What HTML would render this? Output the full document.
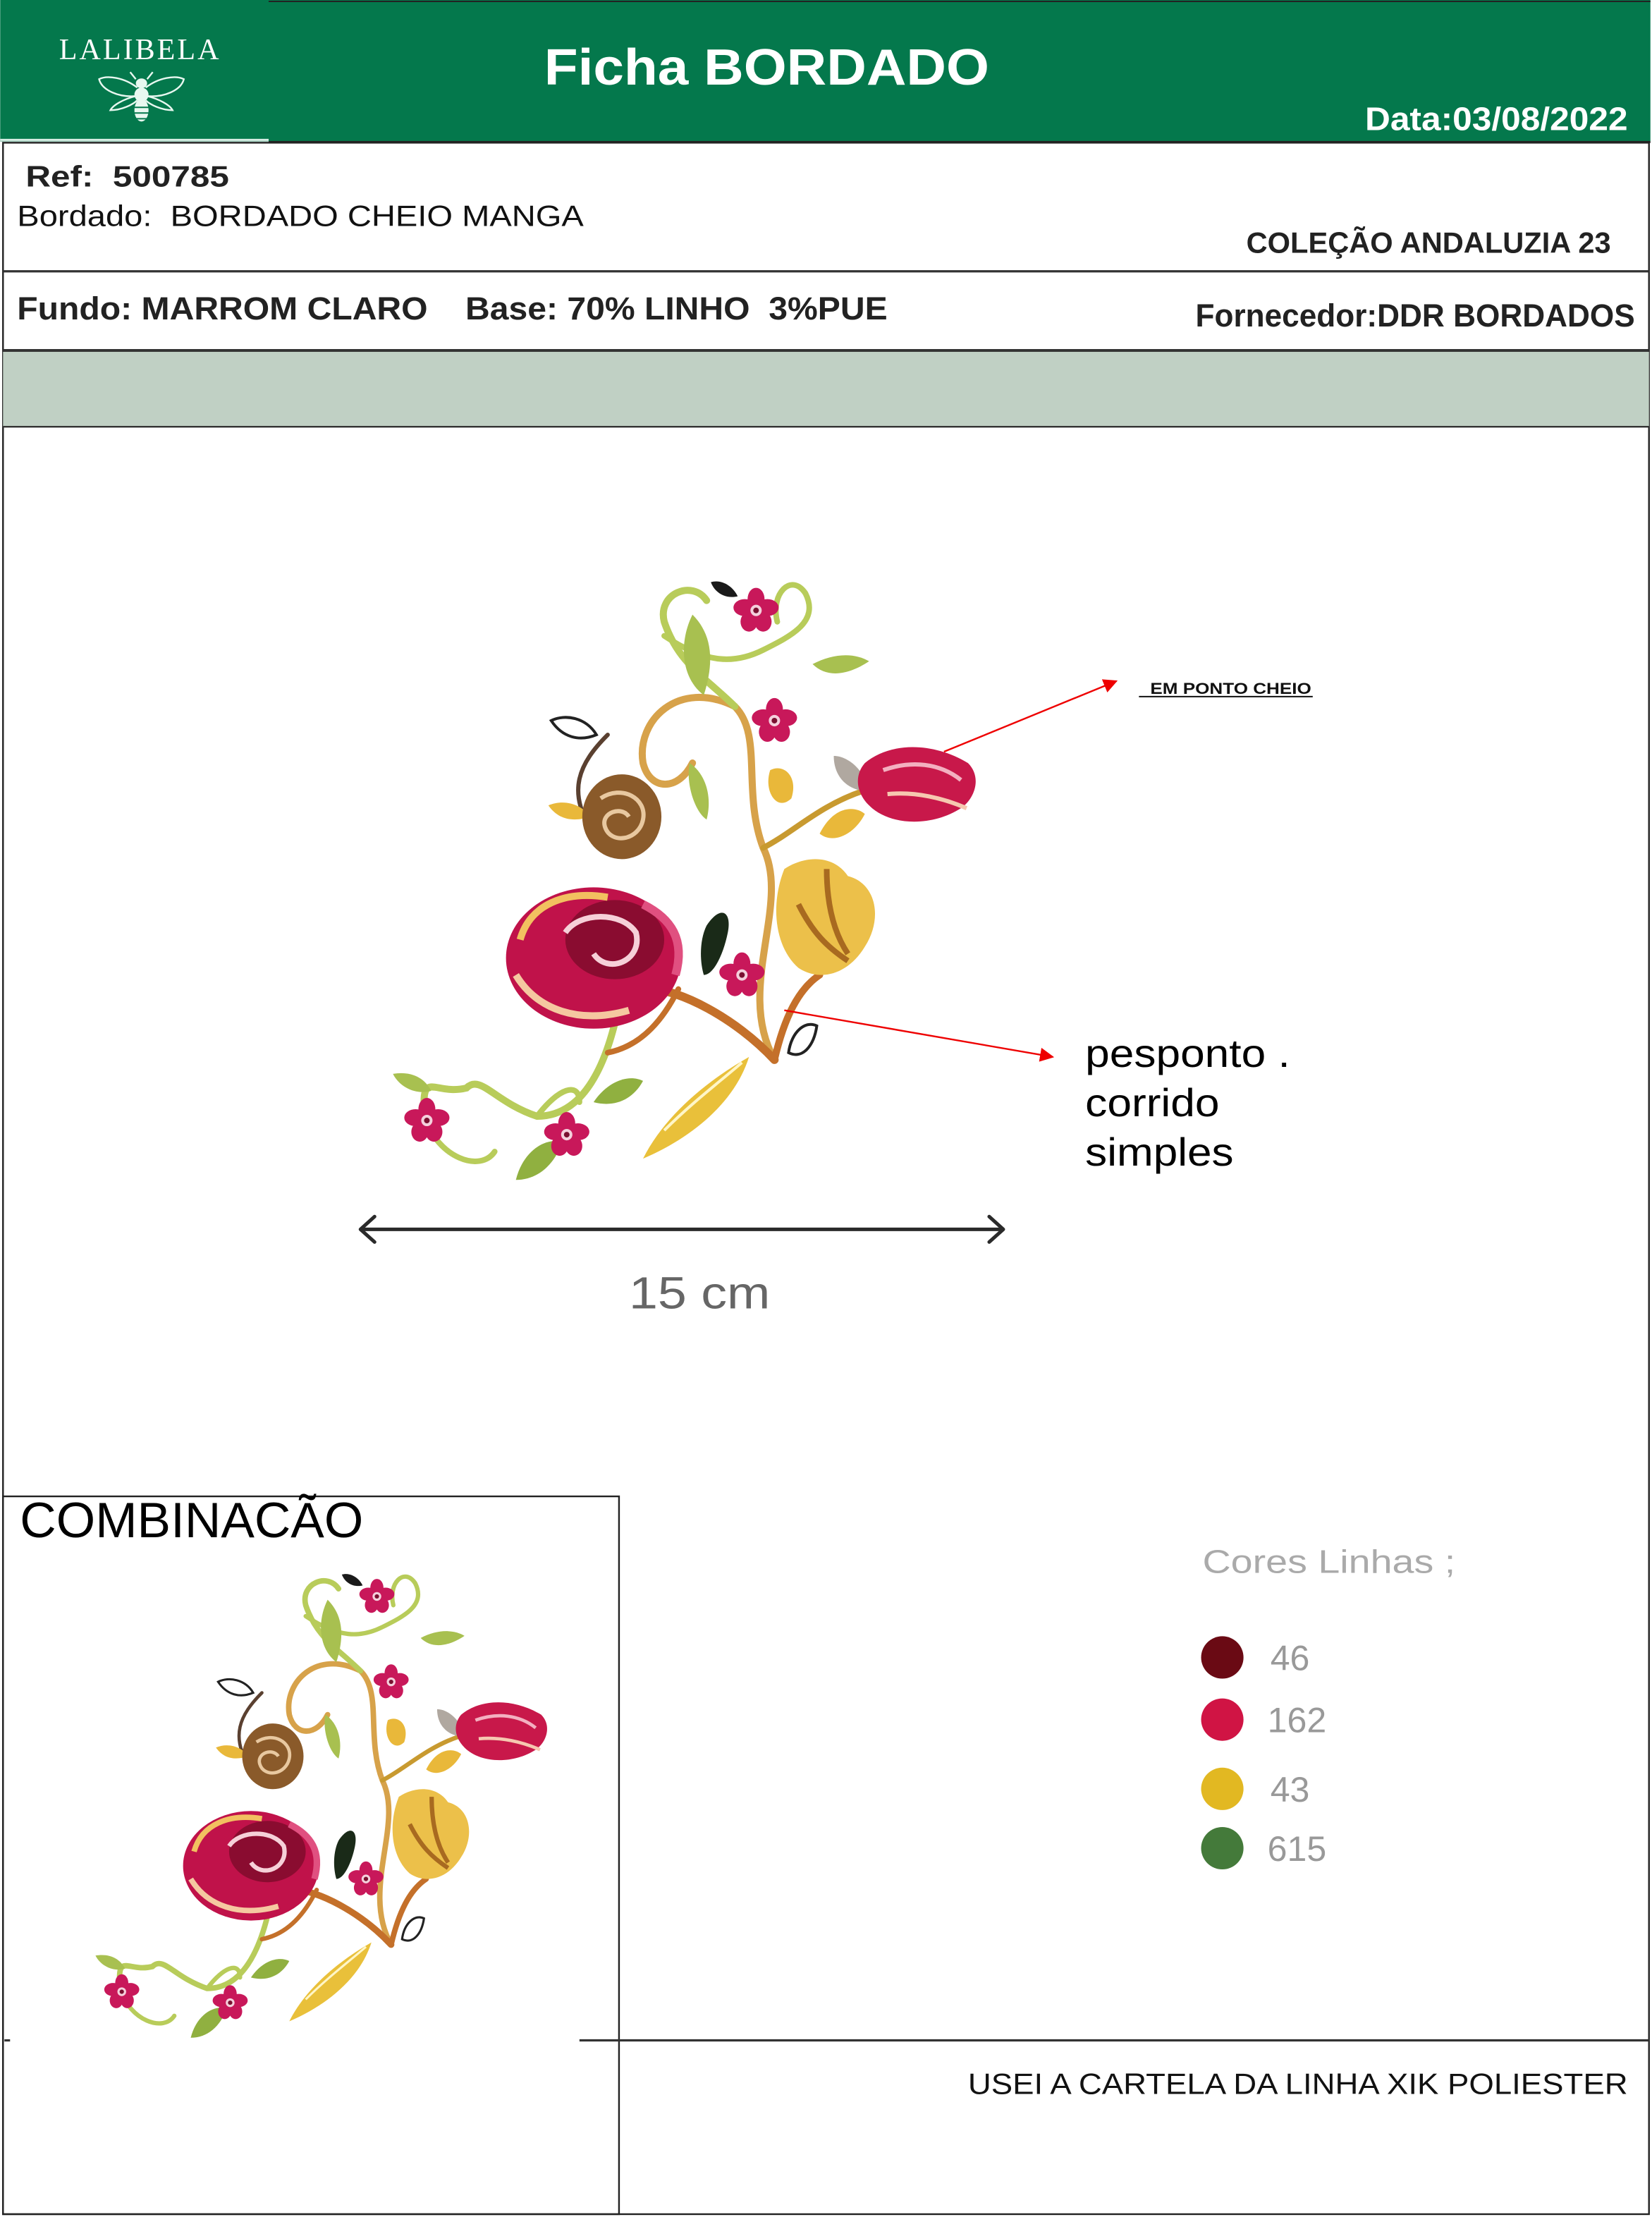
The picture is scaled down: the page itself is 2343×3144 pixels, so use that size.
<!DOCTYPE html>
<html><head><meta charset="utf-8"><style>
html,body{margin:0;padding:0;background:#fff;width:2343px;height:3144px;overflow:hidden}
svg{display:block}
text{font-family:"Liberation Sans",Arial,sans-serif}
</style></head><body>
<svg width="2343" height="3144" viewBox="0 0 1169 1569" xmlns="http://www.w3.org/2000/svg">
<defs>
<g id="flower">
  <g fill="#c8185a">
    <ellipse cx="0" cy="-8" rx="6" ry="8"/>
    <ellipse cx="8" cy="-2" rx="8" ry="6"/>
    <ellipse cx="5" cy="8" rx="6" ry="7"/>
    <ellipse cx="-5" cy="8" rx="6" ry="7"/>
    <ellipse cx="-8" cy="-2" rx="8" ry="6"/>
  </g>
  <circle r="4" fill="#f4d0dc"/><circle r="2" fill="#7a1030"/>
</g>
<g id="emb">
  <g fill="none" stroke-linecap="round">
    <path d="M548 750 C520 700 560 640 540 600 C525 560 540 520 520 500 C480 480 450 510 455 540 C460 560 480 560 490 540" stroke="#d7a24a" stroke-width="5"/>
    <path d="M548 750 C520 720 480 700 460 700" stroke="#c4702a" stroke-width="6"/>
    <path d="M548 750 C555 720 565 700 580 690" stroke="#c4702a" stroke-width="5"/>
    <path d="M540 600 C560 590 580 570 610 560" stroke="#c89a30" stroke-width="4"/>
    <path d="M520 500 C500 480 480 470 470 440 C465 420 490 410 500 425" stroke="#b8cc5a" stroke-width="5"/>
    <path d="M470 450 C500 470 520 470 540 460 C560 450 580 440 570 420 C560 405 545 420 550 440" stroke="#b8cc5a" stroke-width="4"/>
    <path d="M430 520 C410 540 400 560 420 590" stroke="#5a4030" stroke-width="3"/>
    <path d="M440 700 C430 760 410 790 380 790 C350 780 340 760 330 770 C310 775 300 760 300 780" stroke="#b8cc5a" stroke-width="5"/>
    <path d="M380 790 C395 770 410 765 410 780" stroke="#b8cc5a" stroke-width="4"/>
    <path d="M300 790 C310 820 340 830 350 815" stroke="#b8cc5a" stroke-width="4"/>
    <path d="M480 700 C470 720 455 740 430 745" stroke="#c4702a" stroke-width="4"/>
  </g>
  <path d="M490 435 C480 455 482 480 498 492 C505 470 505 450 490 435Z" fill="#a8c050"/>
  <path d="M575 470 C590 462 605 462 615 468 C600 478 585 480 575 470Z" fill="#a8c050"/>
  <path d="M488 540 C485 555 492 575 500 580 C504 565 500 548 488 540Z" fill="#a8c050"/>
  <path d="M390 510 C400 505 415 508 422 520 C410 525 398 522 390 510Z" fill="none" stroke="#222" stroke-width="2"/>
  <path d="M503 412 C510 410 518 414 522 422 C514 424 506 420 503 412Z" fill="#1a1a1a"/>
  <path d="M500 655 C510 640 518 645 515 660 C512 675 505 690 498 690 C495 680 495 665 500 655Z" fill="#1a2a18"/>
  <path d="M558 745 C560 730 570 722 578 726 C576 740 568 750 558 745Z" fill="none" stroke="#222" stroke-width="2"/>
  <path d="M455 820 C470 790 500 765 530 748 C520 780 490 805 455 820Z" fill="#e9c03a"/>
  <path d="M470 800 C490 780 510 765 525 752" stroke="#fff6c8" stroke-width="2" fill="none"/>
  <path d="M365 835 C370 815 385 805 398 808 C392 825 380 835 365 835Z" fill="#90b040"/>
  <path d="M420 780 C430 765 445 760 455 765 C448 778 435 784 420 780Z" fill="#90b040"/>
  <path d="M545 545 C555 540 565 550 560 565 C550 575 540 560 545 545Z" fill="#e9b83a"/>
  <path d="M580 590 C590 570 605 570 612 576 C605 590 590 598 580 590Z" fill="#e9b83a"/>
  <path d="M590 535 C600 535 612 545 615 560 C600 560 590 550 590 535Z" fill="#b0a8a0"/>
  <path d="M388 570 C400 565 412 570 418 578 C405 582 395 580 388 570Z" fill="#e9b83a"/>
  <path d="M278 760 C290 758 300 762 305 772 C295 775 283 770 278 760Z" fill="#a8c050"/>
  <path d="M612 540 C630 525 660 525 685 540 C695 550 690 565 680 572 C660 585 630 585 615 570 C605 560 605 548 612 540Z" fill="#c8184a"/>
  <path d="M625 545 C645 538 665 540 680 552" stroke="#f3b0c0" stroke-width="3" fill="none"/>
  <path d="M628 562 C648 560 668 565 684 572" stroke="#f6c8b0" stroke-width="3" fill="none"/>
  <ellipse cx="440" cy="578" rx="28" ry="30" fill="#8a5a2a"/>
  <path d="M425 565 C440 555 458 565 455 580 C452 595 432 598 428 585 C425 575 440 570 445 578" stroke="#e8c8a0" stroke-width="3" fill="none"/>
  <ellipse cx="420" cy="678" rx="62" ry="50" fill="#c0124a"/>
  <ellipse cx="435" cy="665" rx="35" ry="28" fill="#8a0c30"/>
  <path d="M368 665 C375 640 400 630 430 635" stroke="#f2c060" stroke-width="5" fill="none"/>
  <path d="M365 690 C380 715 410 725 445 715" stroke="#f5c8a0" stroke-width="5" fill="none"/>
  <path d="M400 660 C410 645 440 645 450 660 C455 680 430 690 420 675" stroke="#f6d0d8" stroke-width="4" fill="none"/>
  <path d="M455 640 C475 650 485 665 478 690" stroke="#e05080" stroke-width="6" fill="none"/>
  <path d="M555 615 C570 605 590 605 600 620 C620 625 625 650 612 670 C600 690 580 695 565 685 C548 670 545 640 555 615Z" fill="#ecc04a"/>
  <path d="M565 640 C575 660 585 670 600 680 M585 615 C585 640 590 660 600 675" stroke="#a86a20" stroke-width="4" fill="none"/>
  <use href="#flower" transform="translate(535,432)"/>
  <use href="#flower" transform="translate(548,510)"/>
  <use href="#flower" transform="translate(525,690)"/>
  <use href="#flower" transform="translate(302,793)"/>
  <use href="#flower" transform="translate(401,803)"/>
</g>
<marker id="ah" viewBox="0 0 10 10" refX="9" refY="5" markerWidth="10" markerHeight="10" orient="auto" markerUnits="userSpaceOnUse">
  <path d="M0 0 L10 5 L0 10Z" fill="#e00"/>
</marker>
</defs>

<rect x="0" y="0" width="1168" height="100" fill="#04784c"/>
<line x1="0" y1="99" x2="190" y2="99" stroke="#d8eee4" stroke-width="1.5"/>
<line x1="190" y1="100.5" x2="1168" y2="100.5" stroke="#222" stroke-width="1.5"/>
<line x1="190" y1="1" x2="1168" y2="1" stroke="#222" stroke-width="1"/>
<text x="99" y="42" text-anchor="middle" font-size="21" fill="#fff" letter-spacing="1.5" style="font-family:'Liberation Serif',serif">LALIBELA</text>
<g fill="none" stroke="#e8f8f0" stroke-width="1.2">
  <path d="M97 62 C88 55 76 53 70 56 C72 64 84 69 96 68"/>
  <path d="M103 62 C112 55 124 53 130 56 C128 64 116 69 104 68"/>
  <path d="M96 68 C88 70 80 74 78 78 C86 78 94 74 97 71"/>
  <path d="M104 68 C112 70 120 74 122 78 C114 78 106 74 103 71"/>
  <path d="M96 56 L92 51 M104 56 L108 51"/>
</g>
<ellipse cx="100" cy="59" rx="4" ry="3.5" fill="#e8f8f0"/>
<ellipse cx="100" cy="67" rx="5" ry="5" fill="#e8f8f0"/>
<ellipse cx="100" cy="78" rx="5" ry="8" fill="#e8f8f0"/>
<path d="M95 76 H105 M95 80 H105 M96 84 H104" stroke="#04784c" stroke-width="1"/>
<text x="385" y="60" font-size="36" font-weight="bold" fill="#fff" textLength="315" lengthAdjust="spacingAndGlyphs">Ficha BORDADO</text>
<text x="966" y="92" font-size="23" font-weight="bold" fill="#fff" textLength="186" lengthAdjust="spacingAndGlyphs">Data:03/08/2022</text>

<rect x="2" y="101" width="1165" height="1466" fill="none" stroke="#222" stroke-width="1.2"/>
<text x="18" y="132" font-size="21" font-weight="bold" fill="#222" textLength="144" lengthAdjust="spacingAndGlyphs" xml:space="preserve">Ref:  500785</text>
<text x="12" y="160" font-size="21" fill="#111" textLength="401" lengthAdjust="spacingAndGlyphs" xml:space="preserve">Bordado:  BORDADO CHEIO MANGA</text>
<text x="882" y="179" font-size="21" font-weight="bold" fill="#222" textLength="258" lengthAdjust="spacingAndGlyphs">COLEÇÃO ANDALUZIA 23</text>
<line x1="2" y1="192" x2="1167" y2="192" stroke="#333" stroke-width="1.6"/>
<text x="12" y="226" font-size="22.5" font-weight="bold" fill="#222" xml:space="preserve" textLength="616" lengthAdjust="spacingAndGlyphs">Fundo: MARROM CLARO    Base: 70% LINHO  3%PUE</text>
<text x="846" y="231" font-size="22.5" font-weight="bold" fill="#222" textLength="311" lengthAdjust="spacingAndGlyphs">Fornecedor:DDR BORDADOS</text>
<line x1="2" y1="248" x2="1167" y2="248" stroke="#333" stroke-width="2"/>
<rect x="2" y="249" width="1165" height="53" fill="#c0d0c4"/>
<line x1="2" y1="302" x2="1167" y2="302" stroke="#333" stroke-width="1.2"/>

<use href="#emb"/>

<line x1="668" y1="532" x2="790" y2="482" stroke="#e00" stroke-width="1.2" marker-end="url(#ah)"/>
<text x="814" y="491" font-size="11" font-weight="bold" fill="#111" textLength="114" lengthAdjust="spacingAndGlyphs">EM PONTO CHEIO</text>
<line x1="806" y1="493" x2="929" y2="493" stroke="#111" stroke-width="1"/>
<line x1="555" y1="715" x2="745" y2="748" stroke="#e00" stroke-width="1.2" marker-end="url(#ah)"/>
<text x="768" y="755" font-size="28" fill="#000" textLength="145" lengthAdjust="spacingAndGlyphs">pesponto .</text>
<text x="768" y="790" font-size="28" fill="#000" textLength="95" lengthAdjust="spacingAndGlyphs">corrido</text>
<text x="768" y="825" font-size="28" fill="#000" textLength="105" lengthAdjust="spacingAndGlyphs">simples</text>

<line x1="255" y1="870" x2="710" y2="870" stroke="#2a2a2a" stroke-width="2.5"/>
<path d="M265 861 L255 870 L265 879 M700 861 L710 870 L700 879" fill="none" stroke="#2a2a2a" stroke-width="2.5" stroke-linecap="round" stroke-linejoin="round"/>
<text x="445" y="926" font-size="32" fill="#666" textLength="100" lengthAdjust="spacingAndGlyphs">15 cm</text>

<rect x="2" y="1059" width="436" height="508" fill="none" stroke="#222" stroke-width="1.2"/>
<text x="14" y="1088" font-size="35" fill="#000" textLength="243" lengthAdjust="spacingAndGlyphs">COMBINACÃO</text>
<g transform="translate(-148,795) scale(0.775)"><use href="#emb"/></g>
<line x1="410" y1="1444" x2="1167" y2="1444" stroke="#333" stroke-width="1.6"/>
<line x1="3" y1="1444" x2="7" y2="1444" stroke="#333" stroke-width="1.6"/>
<text x="685" y="1482" font-size="21" fill="#111" textLength="467" lengthAdjust="spacingAndGlyphs">USEI A CARTELA DA LINHA XIK POLIESTER</text>

<text x="851" y="1113" font-size="23" fill="#aaa" textLength="179" lengthAdjust="spacingAndGlyphs">Cores Linhas ;</text>
<circle cx="865" cy="1173" r="15" fill="#6a0a14"/>
<circle cx="865" cy="1217" r="15" fill="#d01444"/>
<circle cx="865" cy="1266" r="15" fill="#e2b822"/>
<circle cx="865" cy="1308" r="15" fill="#447a3a"/>
<text x="899" y="1182" font-size="25" fill="#999">46</text>
<text x="897" y="1226" font-size="25" fill="#999">162</text>
<text x="899" y="1275" font-size="25" fill="#999">43</text>
<text x="897" y="1317" font-size="25" fill="#999">615</text>
</svg>
</body></html>
